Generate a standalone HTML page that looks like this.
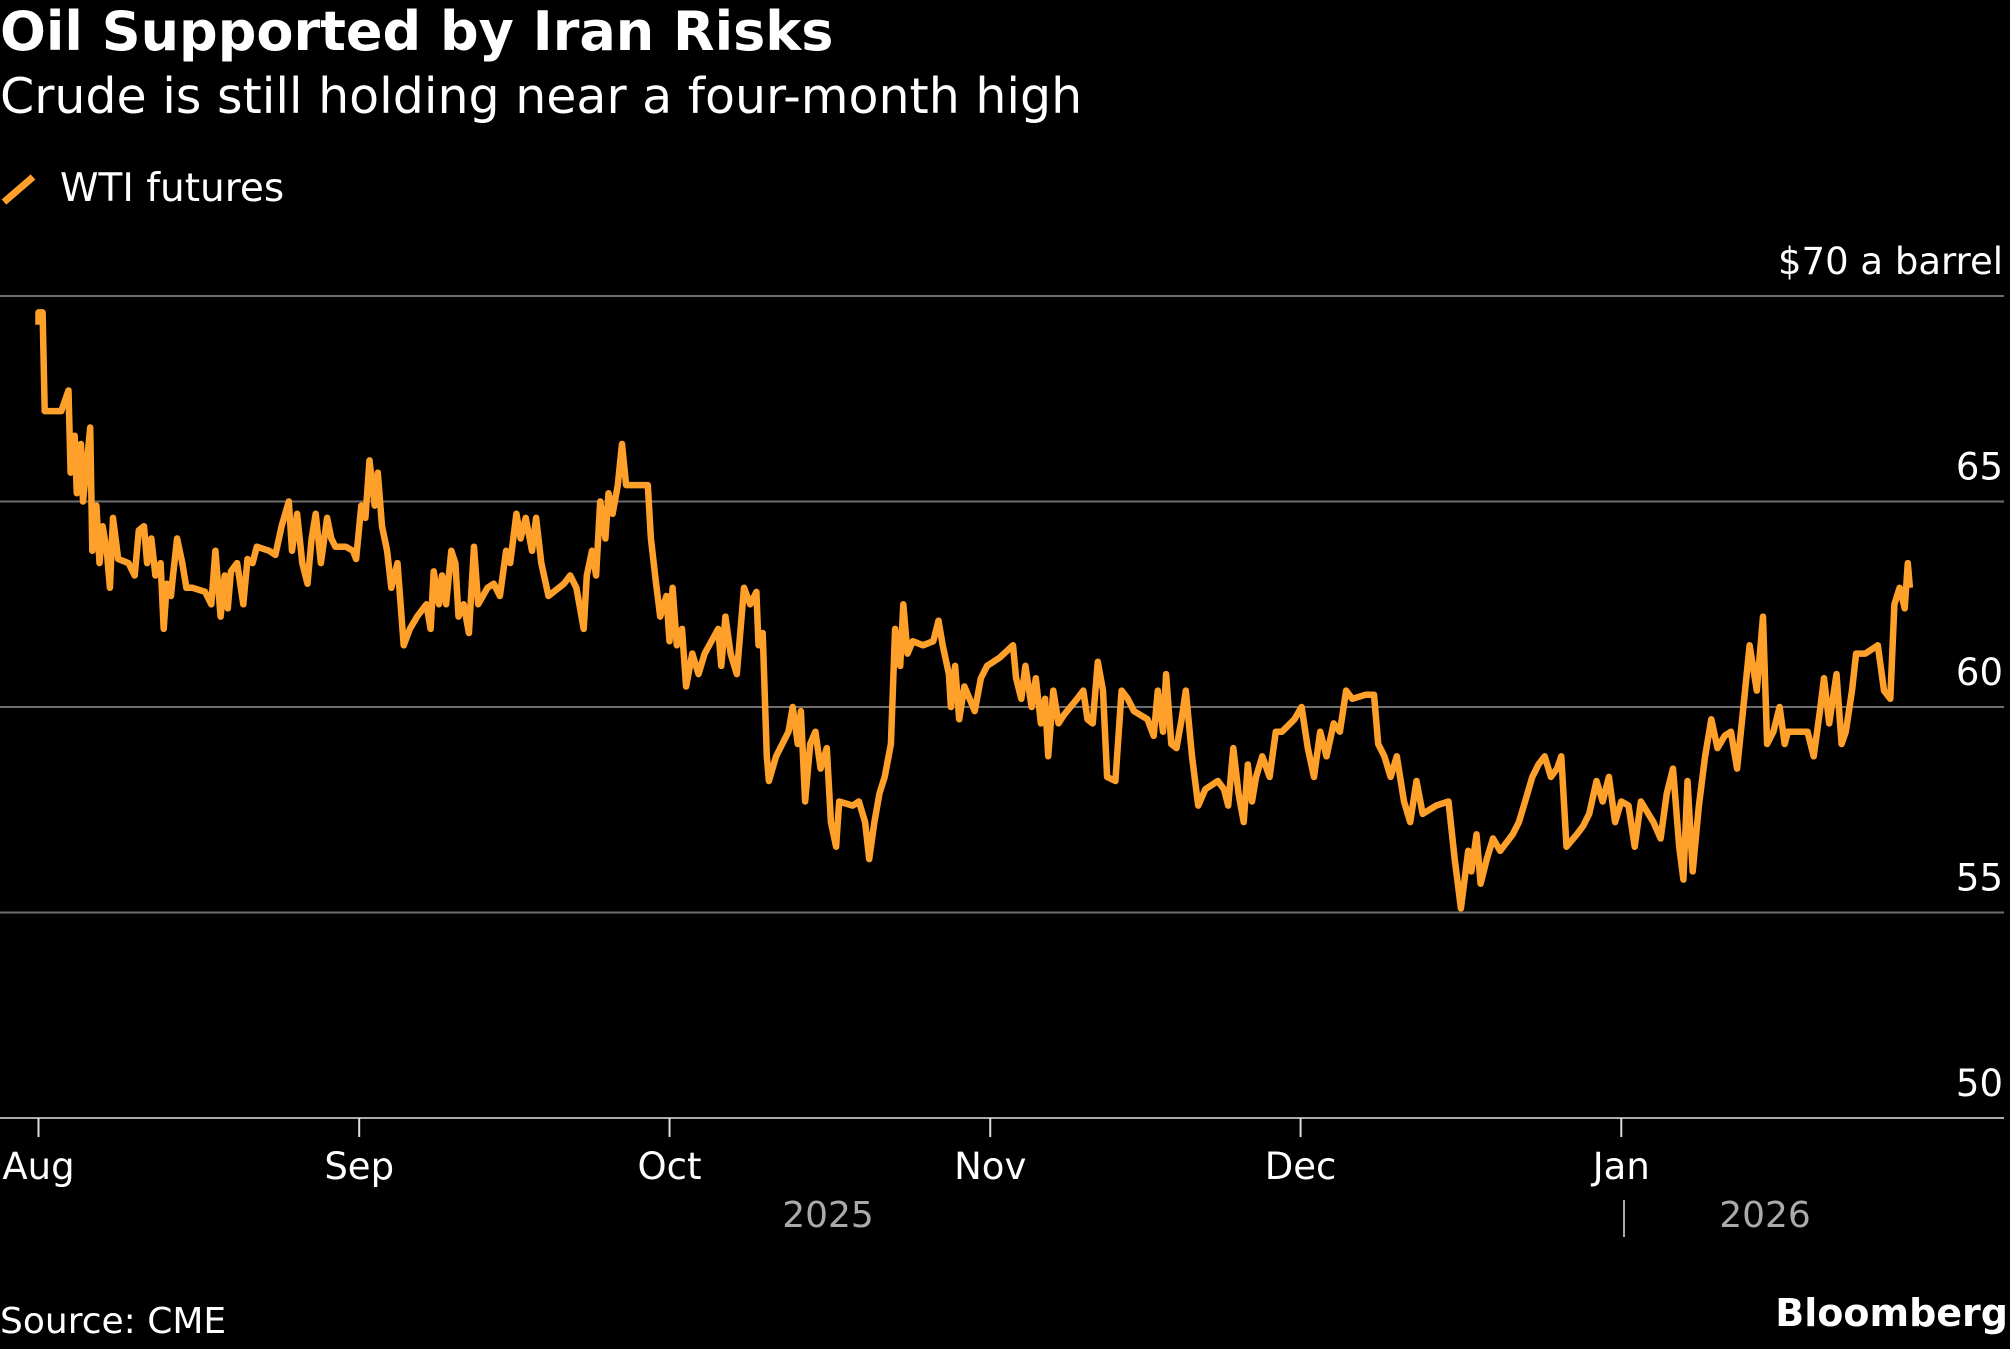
<!DOCTYPE html>
<html><head><meta charset="utf-8">
<style>
html,body{margin:0;padding:0;background:#000;}
body{width:2010px;height:1344px;overflow:hidden;font-family:"Liberation Sans","DejaVu Sans",sans-serif;color:#fff;}
svg text{font-family:"DejaVu Sans","Liberation Sans",sans-serif;}
</style></head>
<body>
<svg width="2010" height="1344" viewBox="0 0 2010 1344">
<text x="0" y="50" font-size="54" font-weight="bold" fill="#fff">Oil Supported by Iran Risks</text>
<text x="0" y="113" font-size="49" fill="#fff">Crude is still holding near a four-month high</text>
<g>
<line x1="4" y1="202" x2="33" y2="177" stroke="#ffa02a" stroke-width="7"/>
<text x="60" y="201" font-size="39" fill="#fff">WTI futures</text>
</g>
<g id="grid"></g>
<g id="yl"></g>
<g id="xl"></g>
<text x="828" y="1227" font-size="36" fill="#aaa" text-anchor="middle">2025</text>
<line x1="1624" y1="1200" x2="1624" y2="1237" stroke="#aaa" stroke-width="2"/>
<text x="1765" y="1227" font-size="36" fill="#aaa" text-anchor="middle">2026</text>
<path id="line" fill="none" stroke="#ffa02a" stroke-width="6.5" stroke-linejoin="round"/>
<text x="0" y="1333" font-size="36" fill="#fff">Source: CME</text>
<text x="2008" y="1326" font-size="38" font-weight="bold" fill="#fff" text-anchor="end">Bloomberg</text>
</svg>
<script>
const yTicks=[50,55,60,65,70];
const yTickLabels=["50","55","60","65","$70 a barrel"];
const monthDays=[0,31,61,92,122,153];
const monthLabels=["Aug","Sep","Oct","Nov","Dec","Jan"];
const days=[0,0,0.4,0.6,1.9,2.2,2.9,3.1,3.5,3.7,4.1,4.3,4.7,5.0,5.2,5.6,5.9,6.2,6.6,6.9,7.2,7.7,8.7,9.3,9.7,10.2,10.5,10.9,11.3,11.8,12.1,12.4,12.8,13.0,13.4,13.9,14.3,14.9,16.1,16.7,17.1,17.6,18.0,18.3,18.6,19.2,19.8,20.2,20.7,21.1,22.3,22.9,23.5,24.2,24.5,25.0,25.5,26.0,26.4,26.8,27.3,27.9,28.3,28.7,29.7,30.4,30.7,31.2,31.6,32.0,32.5,32.8,33.2,33.7,34.1,34.7,35.3,35.9,36.6,37.5,37.9,38.2,38.7,39.0,39.4,39.9,40.3,40.6,41.1,41.6,42.1,42.5,43.4,44.0,44.6,45.2,45.6,46.2,46.6,47.1,47.7,48.1,48.6,49.3,50.8,51.4,52.0,52.7,53.0,53.5,53.9,54.3,54.8,55.1,55.5,56.0,56.4,56.8,57.6,58.9,59.2,59.7,60.1,60.7,61.0,61.3,61.7,62.2,62.6,63.2,63.8,64.4,65.7,66.0,66.4,66.9,67.5,68.2,68.8,69.4,69.6,70.0,70.4,70.6,71.3,72.5,72.9,73.4,73.7,74.1,74.6,75.1,75.6,76.2,76.6,77.1,77.4,78.7,79.3,79.9,80.3,80.8,81.3,81.8,82.4,82.8,83.3,83.6,84.0,84.5,85.5,86.5,87.0,87.4,88.0,88.2,88.6,89.0,89.5,90.0,90.5,91.1,91.7,92.9,94.2,94.5,95.0,95.4,96.0,96.4,96.9,97.3,97.6,98.1,98.6,99.1,100.4,101.0,101.4,101.9,102.4,102.9,103.3,104.1,104.7,105.3,105.9,107.2,107.8,108.2,108.7,109.0,109.5,110.0,110.5,110.9,111.5,112.1,112.8,114.0,114.6,115.0,115.5,116.0,116.5,116.9,117.3,117.7,118.3,119.0,119.6,120.2,121.4,122.1,122.7,123.3,123.9,124.5,125.2,125.8,126.4,127.0,128.3,129.1,129.5,130.1,130.7,131.3,132.0,132.6,133.2,133.8,135.1,136.3,136.9,137.5,138.2,138.5,139.0,139.4,140.0,140.6,141.3,142.5,143.1,143.7,144.4,145.0,145.6,146.2,146.8,147.2,147.7,148.7,149.3,149.9,150.6,151.2,151.8,152.4,153.0,153.7,154.3,154.9,156.1,156.8,157.4,158.0,158.6,159.0,159.4,159.9,160.5,161.1,161.7,162.3,163.0,163.6,164.2,164.8,165.4,166.1,166.7,167.1,167.7,168.3,168.8,169.1,169.8,171.0,171.6,172.2,172.6,173.1,173.8,174.3,174.7,175.3,175.7,176.6,177.8,178.4,179.0,179.4,179.9,180.4,180.7,180.9];
const prices=[69.3,69.6,69.6,67.2,67.2,67.2,67.7,65.7,66.6,65.2,66.4,65.0,66.0,66.8,63.8,64.9,63.5,64.4,63.8,62.9,64.6,63.6,63.5,63.2,64.3,64.4,63.5,64.1,63.2,63.5,61.9,63.0,62.7,63.2,64.1,63.5,62.9,62.9,62.8,62.5,63.8,62.2,63.2,62.4,63.3,63.5,62.5,63.6,63.5,63.9,63.8,63.7,64.4,65.0,63.8,64.7,63.5,63.0,64.1,64.7,63.5,64.6,64.1,63.9,63.9,63.8,63.6,64.9,64.6,66.0,64.9,65.7,64.4,63.8,62.9,63.5,61.5,61.9,62.2,62.5,61.9,63.3,62.5,63.2,62.5,63.8,63.5,62.2,62.5,61.8,63.9,62.5,62.9,63.0,62.7,63.8,63.5,64.7,64.1,64.6,63.8,64.6,63.5,62.7,63.0,63.2,62.9,61.9,63.2,63.8,63.2,65.0,64.1,65.2,64.7,65.4,66.4,65.4,65.4,65.4,64.1,63.0,62.2,62.7,61.6,62.9,61.5,61.9,60.5,61.3,60.8,61.3,61.9,61.0,62.2,61.3,60.8,62.9,62.5,62.8,61.5,61.8,58.8,58.2,58.8,59.4,60.0,59.1,59.9,57.7,59.1,59.4,58.5,59.0,57.2,56.6,57.7,57.6,57.7,57.2,56.3,57.2,57.9,58.3,59.1,61.9,61.0,62.5,61.3,61.6,61.5,61.6,62.1,61.5,60.8,60.0,61.0,59.7,60.5,60.2,59.9,60.7,61.0,61.2,61.5,60.7,60.2,61.0,60.0,60.7,59.6,60.2,58.8,60.4,59.6,59.8,60.2,60.4,59.7,59.6,61.1,60.4,58.3,58.2,60.4,60.2,59.9,59.7,59.3,60.4,59.4,60.8,59.1,59.0,59.7,60.4,58.8,57.6,58.0,58.2,58.0,57.6,59.0,57.9,57.2,58.6,57.7,58.3,58.8,58.3,59.4,59.4,59.7,60.0,59.0,58.3,59.4,58.8,59.6,59.4,60.4,60.2,60.3,60.3,59.1,58.8,58.3,58.8,57.7,57.2,58.2,57.4,57.6,57.7,56.3,55.1,56.5,56.0,56.9,55.7,56.3,56.8,56.5,56.9,57.2,57.7,58.3,58.6,58.8,58.3,58.5,58.8,56.6,56.9,57.1,57.4,58.2,57.7,58.3,57.2,57.7,57.6,56.6,57.7,57.2,56.8,57.9,58.5,56.6,55.8,58.2,56.0,57.6,58.8,59.7,59.0,59.3,59.4,58.5,60.0,61.5,60.4,62.2,59.1,59.4,60.0,59.1,59.4,59.4,59.4,58.8,59.9,60.7,59.6,60.8,59.1,59.4,60.4,61.3,61.3,61.5,60.4,60.2,62.5,62.9,62.4,63.5,62.9];

const NS="http://www.w3.org/2000/svg";
const xS=d=>38.5+d*10.345;
const yS=p=>1118-(p-50)*41.1;
const grid=document.getElementById('grid'),yl=document.getElementById('yl'),xl=document.getElementById('xl');
yTicks.forEach((t,i)=>{
  const l=document.createElementNS(NS,'line');
  l.setAttribute('x1',0);l.setAttribute('x2',2004);
  l.setAttribute('y1',yS(t));l.setAttribute('y2',yS(t));
  l.setAttribute('stroke',t===50?'#aaa':'#6e6e6e');l.setAttribute('stroke-width',2);
  
  
  grid.appendChild(l);
  const tx=document.createElementNS(NS,'text');
  tx.setAttribute('x',2003);tx.setAttribute('y',yS(t)-22);
  tx.setAttribute('text-anchor','end');tx.setAttribute('font-size',37);tx.setAttribute('fill','#fff');
  tx.textContent=yTickLabels[i];
  
  
  yl.appendChild(tx);
});
monthDays.forEach((d,i)=>{
  const l=document.createElementNS(NS,'line');
  l.setAttribute('x1',xS(d));l.setAttribute('x2',xS(d));
  l.setAttribute('y1',1118);l.setAttribute('y2',1137);
  l.setAttribute('stroke','#ddd');l.setAttribute('stroke-width',2);
  
  
  xl.appendChild(l);
  const tx=document.createElementNS(NS,'text');
  tx.setAttribute('x',xS(d));tx.setAttribute('y',1179);
  tx.setAttribute('text-anchor','middle');tx.setAttribute('font-size',37);tx.setAttribute('fill','#fff');
  tx.textContent=monthLabels[i];
  
  
  xl.appendChild(tx);
});
document.getElementById('line').setAttribute('d',days.map((d,i)=>(i?'L':'M')+xS(d).toFixed(1)+' '+yS(prices[i]).toFixed(1)).join(' '));
</script>
</body></html>
